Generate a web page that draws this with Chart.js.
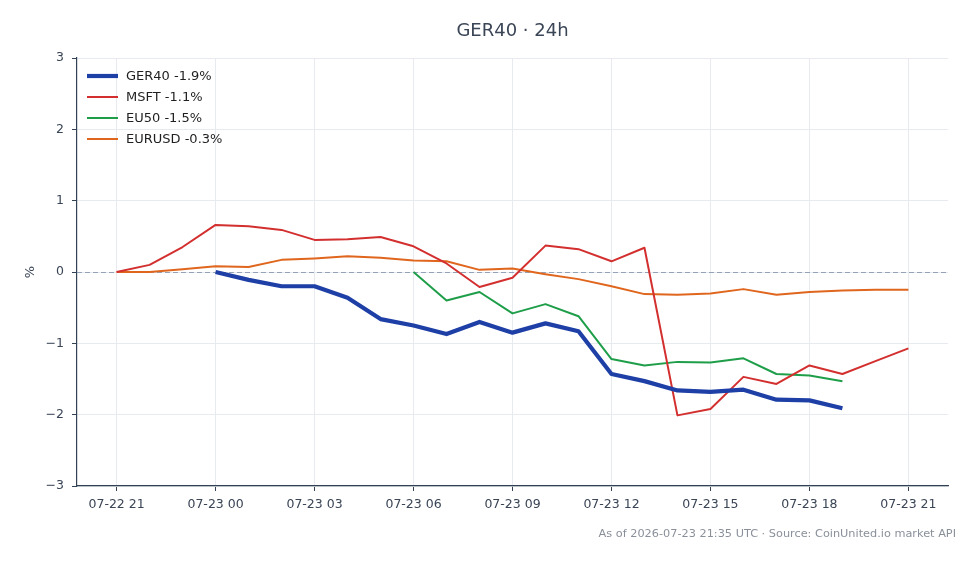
<!DOCTYPE html>
<html>
<head>
<meta charset="utf-8">
<script src="https://cdn.jsdelivr.net/npm/chart.js@4.4.1/dist/chart.umd.min.js"></script>
<style>
  html, body { margin: 0; padding: 0; background: #ffffff; }
  #wrap { width: 980px; height: 564px; position: relative; }
</style>
</head>
<body>
<div id="wrap"><canvas id="c" width="980" height="564"></canvas></div>
<script>
// ---- Data ----
const times = ['07-22 21','07-22 22','07-22 23','07-23 00','07-23 01','07-23 02','07-23 03','07-23 04','07-23 05',
  '07-23 06','07-23 07','07-23 08','07-23 09','07-23 10','07-23 11','07-23 12','07-23 13','07-23 14',
  '07-23 15','07-23 16','07-23 17','07-23 18','07-23 19','07-23 20','07-23 21'];
const seriesNames = ['GER40', 'MSFT', 'EU50', 'EURUSD'];
const legendChanges = ['-1.9%', '-1.1%', '-1.5%', '-0.3%'];
const ger40 = [null,null,null,0.00,-0.11,-0.20,-0.20,-0.36,-0.66,-0.75,-0.87,-0.70,-0.85,-0.72,-0.83,-1.43,-1.53,-1.66,-1.68,-1.65,-1.79,-1.80,-1.91,null,null];
const msft = [0,0.10,0.35,0.66,0.64,0.59,0.45,0.46,0.49,0.36,0.12,-0.21,-0.08,0.37,0.32,0.15,0.34,-2.01,-1.92,-1.47,-1.57,-1.31,-1.43,-1.25,-1.07];
const eu50 = [null,null,null,null,null,null,null,null,null,0.00,-0.40,-0.28,-0.58,-0.45,-0.62,-1.22,-1.31,-1.26,-1.27,-1.21,-1.43,-1.45,-1.53,null,null];
const eurusd = [0,0.00,0.04,0.08,0.07,0.17,0.19,0.22,0.20,0.16,0.15,0.03,0.05,-0.03,-0.10,-0.20,-0.31,-0.32,-0.30,-0.24,-0.32,-0.28,-0.26,-0.25,-0.25];
const yTicks = [-3, -2, -1, 0, 1, 2, 3];
const titleText = 'GER40 \u00b7 24h';
const footerText = 'As of 2026-07-23 21:35 UTC \u00b7 Source: CoinUnited.io market API';

// ---- Styling ----
const FONT = "'DejaVu Sans', sans-serif";
const colors = ['#1e3fa6', '#d32f2f', '#1f9e4a', '#e0661e'];
const widths = [4.2, 2, 2, 2];
const TEXT = '#3a4556';
const AXIS = '#334155';
const GRID = '#e7eaee';

function toPoints(arr) {
  return arr.map((v, i) => ({ x: i, y: v }));
}
const allSeries = [ger40, msft, eu50, eurusd];

const datasets = allSeries.map((arr, i) => ({
  label: seriesNames[i] + ' ' + legendChanges[i],
  data: toPoints(arr),
  borderColor: colors[i],
  backgroundColor: colors[i],
  borderWidth: widths[i],
  pointRadius: 0,
  pointHoverRadius: 0,
  tension: 0,
  spanGaps: false,
  borderJoinStyle: 'round',
  borderCapStyle: 'butt',
  fill: false
}));

const decor = {
  id: 'decor',
  beforeDatasetsDraw(chart) {
    const { ctx, chartArea, scales } = chart;
    const y0 = scales.y.getPixelForValue(0);
    ctx.save();
    ctx.strokeStyle = '#94a3b8';
    ctx.lineWidth = 1.2;
    ctx.setLineDash([5, 3]);
    ctx.beginPath();
    ctx.moveTo(chartArea.left, Math.round(y0) + 0.5);
    ctx.lineTo(chartArea.right, Math.round(y0) + 0.5);
    ctx.stroke();
    ctx.restore();
  },
  afterDraw(chart) {
    const { ctx, chartArea } = chart;
    ctx.save();
    // Title
    ctx.fillStyle = TEXT;
    ctx.font = '18px ' + FONT;
    ctx.textAlign = 'center';
    ctx.textBaseline = 'middle';
    ctx.fillText(titleText, (chartArea.left + chartArea.right) / 2, 31);
    // y label
    ctx.save();
    ctx.translate(31, (chartArea.top + chartArea.bottom) / 2);
    ctx.rotate(-Math.PI / 2);
    ctx.font = '13px ' + FONT;
    ctx.fillStyle = TEXT;
    ctx.fillText('%', 0, 0);
    ctx.restore();
    // Footer
    ctx.font = '11.3px ' + FONT;
    ctx.fillStyle = '#8a909a';
    ctx.textAlign = 'right';
    ctx.fillText(footerText, 956, 534);
    // Legend
    ctx.textAlign = 'left';
    ctx.font = '13px ' + FONT;
    chart.data.datasets.forEach((ds, i) => {
      const y = 76 + i * 21;
      ctx.strokeStyle = ds.borderColor;
      ctx.lineWidth = ds.borderWidth;
      ctx.beginPath();
      ctx.moveTo(87, y);
      ctx.lineTo(118, y);
      ctx.stroke();
      ctx.fillStyle = '#1f1f1f';
      ctx.fillText(ds.label, 126, y + 1);
    });
    ctx.restore();
  }
};

new Chart(document.getElementById('c'), {
  type: 'line',
  data: { datasets },
  options: {
    responsive: false,
    animation: false,
    events: [],
    layout: { padding: { top: 58, right: 32, bottom: 0, left: 0 } },
    plugins: { legend: { display: false }, title: { display: false }, tooltip: { enabled: false } },
    scales: {
      x: {
        type: 'linear',
        min: -1.2,
        max: 25.2,
        afterBuildTicks(scale) {
          scale.ticks = times.map((t, i) => i).filter(i => i % 3 === 0).map(v => ({ value: v }));
        },
        afterFit(scale) { scale.height = 78; },
        ticks: {
          autoSkip: false,
          maxRotation: 0,
          padding: 6,
          color: TEXT,
          font: { family: FONT, size: 12.5 },
          callback: (v) => times[v] !== undefined ? times[v] : ''
        },
        grid: { color: GRID, lineWidth: 1, tickColor: AXIS, tickLength: 5, drawTicks: true },
        border: { display: true, color: AXIS, width: 1.2 }
      },
      y: {
        type: 'linear',
        min: -3,
        max: 3,
        afterBuildTicks(scale) {
          scale.ticks = yTicks.map(v => ({ value: v }));
        },
        afterFit(scale) { scale.width = 77; },
        ticks: {
          padding: 8,
          color: TEXT,
          font: { family: FONT, size: 12.5 },
          callback: (v) => (v < 0 ? '\u2212' + Math.abs(v) : String(v))
        },
        grid: { color: GRID, lineWidth: 1, tickColor: AXIS, tickLength: 5, drawTicks: true },
        border: { display: true, color: AXIS, width: 1.2 }
      }
    }
  },
  plugins: [decor]
});
</script>
</body>
</html>
